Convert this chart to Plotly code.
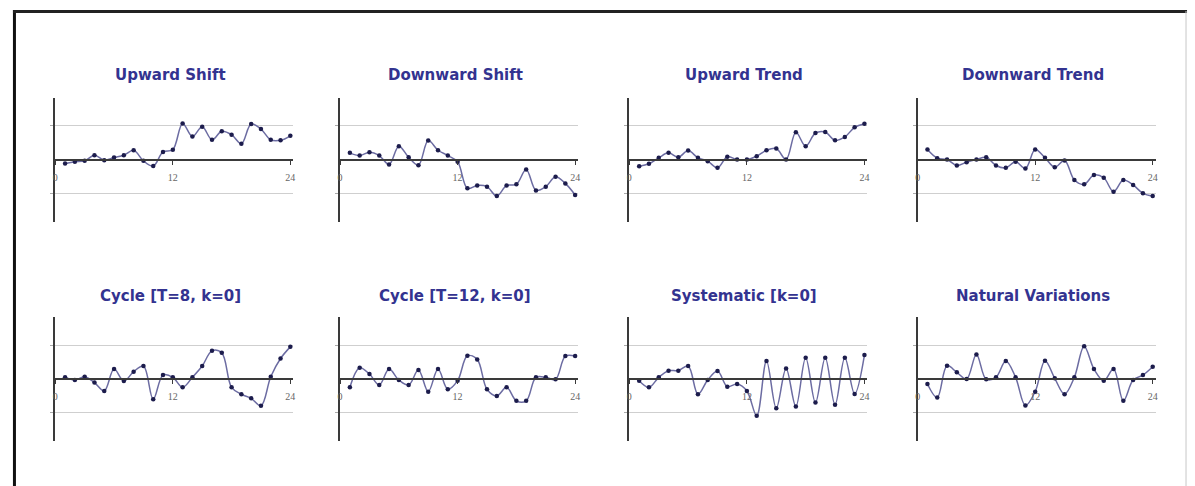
import plotly.graph_objects as go

# ---- data ----
samples = list(range(1, 25))
titles = ["Upward Shift", "Downward Shift", "Upward Trend", "Downward Trend",
          "Cycle [T=8, k=0]", "Cycle [T=12, k=0]", "Systematic [k=0]", "Natural Variations"]
tick_values = [0, 12, 24]
tick_labels = ["0", "12", "24"]
control_limits = [-3, 3]

upward_shift = [-0.35, -0.2, -0.12, 0.38, -0.06, 0.17, 0.38, 0.82, -0.12, -0.58, 0.67, 0.87,
                3.2, 2.04, 2.9, 1.75, 2.5, 2.2, 1.4, 3.15, 2.7, 1.75, 1.7, 2.1]
downward_shift = [0.59, 0.35, 0.65, 0.35, -0.44, 1.18, 0.2, -0.5, 1.68, 0.82, 0.35, -0.2,
                  -2.56, -2.3, -2.41, -3.24, -2.3, -2.2, -0.88, -2.74, -2.41, -1.53, -2.12, -3.15]
upward_trend = [-0.59, -0.38, 0.15, 0.59, 0.2, 0.79, 0.15, -0.15, -0.74, 0.24, 0.0, 0.0,
                0.29, 0.82, 0.97, 0.0, 2.41, 1.18, 2.35, 2.44, 1.7, 2.0, 2.85, 3.18]
downward_trend = [0.88, 0.12, 0.0, -0.53, -0.24, 0.0, 0.2, -0.53, -0.74, -0.2, -0.8, 0.88,
                  0.15, -0.68, -0.09, -1.82, -2.2, -1.38, -1.62, -2.85, -1.82, -2.26, -3.0, -3.24]
cycle_t8 = [0.15, -0.09, 0.2, -0.32, -1.06, 0.88, -0.18, 0.65, 1.15, -1.79, 0.35, 0.15,
            -0.74, 0.15, 1.15, 2.5, 2.32, -0.74, -1.35, -1.71, -2.38, 0.2, 1.82, 2.85]
cycle_t12 = [-0.74, 1.0, 0.44, -0.53, 0.88, -0.09, -0.53, 0.79, -1.12, 0.88, -0.91, -0.15,
             2.06, 1.74, -0.91, -1.5, -0.74, -1.94, -1.94, 0.15, 0.15, -0.03, 2.03, 2.03]
systematic = [-0.15, -0.74, 0.15, 0.74, 0.74, 1.15, -1.35, -0.09, 0.71, -0.68, -0.44, -1.06,
              -3.26, 1.59, -2.59, 0.94, -2.44, 1.88, -2.09, 1.88, -2.29, 1.88, -1.32, 2.12]
natural = [-0.44, -1.65, 1.18, 0.59, 0.0, 2.18, -0.03, 0.15, 1.59, 0.15, -2.35, -1.12,
           1.62, 0.06, -1.35, 0.15, 2.91, 0.88, -0.15, 0.88, -1.94, -0.09, 0.35, 1.09]

series = [upward_shift, downward_shift, upward_trend, downward_trend,
          cycle_t8, cycle_t12, systematic, natural]

# ---- layout geometry ----
W, H = 1195, 486
col_x0 = [52.5, 338.5, 629, 918.5]
row_center = [159.5, 379]
title_y = [75, 296]
plot_w = 239
half_h = 62
X_RANGE = [0, 24.3]
Y_RANGE = [-5.5, 5.5]

fig = go.Figure()
layout = dict(
    width=W, height=H,
    margin=dict(l=0, r=0, t=0, b=0),
    paper_bgcolor="white", plot_bgcolor="white",
    showlegend=False,
    annotations=[], shapes=[],
)

for i, (vals, title) in enumerate(zip(series, titles)):
    k = i + 1
    r, c = divmod(i, 4)
    x0 = col_x0[c]
    cy = row_center[r]
    xd = [x0 / W, (x0 + plot_w) / W]
    yd = [1 - (cy + half_h) / H, 1 - (cy - half_h) / H]
    xname = "xaxis" if k == 1 else f"xaxis{k}"
    yname = "yaxis" if k == 1 else f"yaxis{k}"
    xref = "x" if k == 1 else f"x{k}"
    yref = "y" if k == 1 else f"y{k}"

    layout[xname] = dict(
        domain=xd, range=X_RANGE, anchor="free", position=1 - cy / H,
        showline=True, linecolor="#3a3a3a", linewidth=2,
        tickmode="array", tickvals=tick_values, ticktext=tick_labels,
        ticks="outside", ticklen=4, tickcolor="#3a3a3a", tickwidth=1,
        tickfont=dict(family="Liberation Serif, serif", size=10, color="#666666"),
        ticklabelstandoff=4,
        showgrid=False, zeroline=False, fixedrange=True,
    )
    layout[yname] = dict(
        domain=yd, range=Y_RANGE, anchor=xref,
        showline=True, linecolor="#3a3a3a", linewidth=2,
        tickmode="array", tickvals=control_limits, showticklabels=False,
        ticks="outside", ticklen=3, tickcolor="#aaaaaa",
        showgrid=True, gridcolor="#cfcfcf", gridwidth=1,
        zeroline=False, fixedrange=True,
    )

    fig.add_trace(go.Scatter(
        x=samples, y=vals, xaxis=xref, yaxis=yref,
        mode="lines+markers",
        line=dict(color="#6c6ca2", width=1.5, shape="spline", smoothing=1.0),
        marker=dict(color="#1c1c4c", size=4.5),
        cliponaxis=False, hoverinfo="skip",
    ))

    layout["annotations"].append(dict(
        text=title, xref="paper", yref="paper",
        x=(xd[0] + xd[1]) / 2 - 4 / W, y=1 - title_y[r] / H,
        xanchor="center", yanchor="middle", showarrow=False,
        font=dict(family="Verdana, DejaVu Sans, sans-serif", size=15, color="#333390", weight="bold"),
    ))

# frame around the chart
layout["shapes"] += [
    dict(type="line", xref="paper", yref="paper", x0=11.5 / W, x1=11.5 / W, y0=0, y1=1 - 10 / H,
         line=dict(color="#111111", width=3)),
    dict(type="line", xref="paper", yref="paper", x0=10 / W, x1=1189 / W, y0=1 - 11.5 / H, y1=1 - 11.5 / H,
         line=dict(color="#222222", width=3)),
    dict(type="line", xref="paper", yref="paper", x0=1188 / W, x1=1188 / W, y0=0, y1=1 - 11 / H,
         line=dict(color="#c8c8c8", width=1)),
]

fig.update_layout(**layout)
fig.write_html(
    "out.html",
    config={"displayModeBar": False},
    post_script="document.body.style.margin='0';document.body.style.overflow='hidden';",
)
